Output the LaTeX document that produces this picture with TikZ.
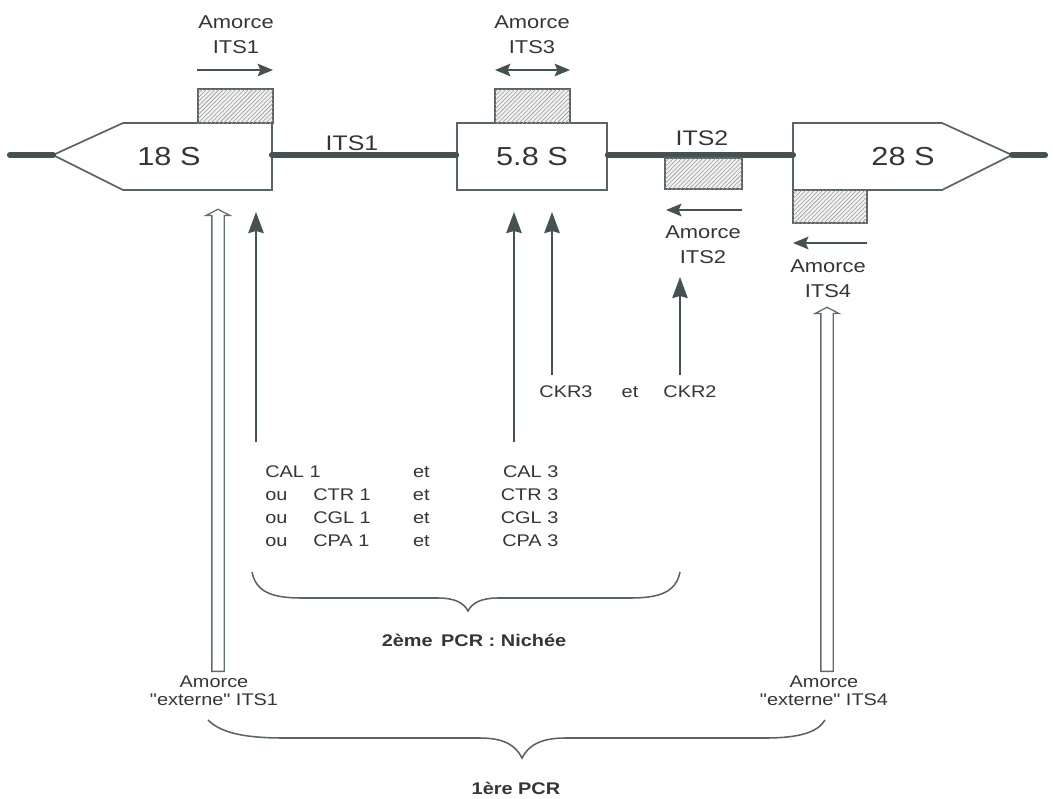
\documentclass[tikz,border=0pt]{standalone}
\usepackage{fontspec}
\setmainfont{Liberation Sans}[FakeStretch=1.18]
\newfontfamily\droit{Liberation Sans}[FakeStretch=1.18, Ligatures=TeXOff]
\usepackage{array}
\usetikzlibrary{arrows.meta,patterns,shapes.arrows,calc}
\definecolor{ink}{HTML}{353535}
\definecolor{strand}{HTML}{465252}
\definecolor{hatch}{HTML}{9A9A9A}

\begin{document}
\begin{tikzpicture}[x=0.025cm, y=-0.025cm, every node/.style={text=ink}]
  \tikzstyle{dna}=[strand, line width=4.4pt, line cap=round]
  \tikzstyle{gene}=[draw=strand!90, line width=1.2pt, fill=white]
  \tikzstyle{primer}=[draw=strand!90, line width=1.1pt, fill=gray!10, postaction={pattern=north east lines, pattern color=hatch}, inner sep=0pt, outer sep=0pt]
  \tikzstyle{sens}=[strand, line width=1pt, -{Stealth[length=11pt, width=9pt, inset=2pt]}]
  \tikzstyle{sonde}=[strand, line width=1.2pt, -{Stealth[length=15pt, width=11pt, inset=1.5pt]}]
  \tikzstyle{creux}=[draw=strand!85, line width=0.9pt, fill=white, shape=single arrow, rotate=90, single arrow head extend=0.15cm, single arrow tip angle=125, inner xsep=0pt, inner ysep=0.1375cm, anchor=tail]
  \tikzstyle{accolade}=[strand!90, line width=1.1pt]
  \tikzstyle{grand}=[font=\fontsize{18.5}{22}\selectfont]
  \tikzstyle{moyen}=[font=\fontsize{15}{18}\selectfont]
  \tikzstyle{amorce}=[font=\fontsize{13.2}{17.8}\selectfont, align=center]
  \tikzstyle{petit}=[font=\fontsize{12}{13}\selectfont, align=center]
  \tikzstyle{gras}=[font=\fontsize{12}{14}\selectfont\bfseries]

\useasboundingbox (0,0) rectangle (1053,798);

% genes
\draw[gene] (53,155) -- (123,123) -- (272,123) -- (272,190) -- (123,190) -- cycle;
\draw[gene] (793,123) -- (942,123) -- (1012,155) -- (942,190) -- (793,190) -- cycle;
\node[gene, grand, minimum width=3.75cm, minimum height=1.675cm, inner sep=0pt] (r58) at (532,156.5) {5.8 S};
\node[grand] (r18) at (169,157) {18 S};
\node[grand] (r28) at (903,157) {28 S};

\coordinate (g0) at (10,155);
\coordinate (tip18) at (53,155);
\coordinate (e18) at (272,155);
\coordinate (w28) at (793,155);
\coordinate (tip28) at (1012,155);
\coordinate (g1) at (1045,155);

\draw[dna] (g0) -- (tip18);
\draw[dna] (e18) -- (e18 -| r58.west);
\draw[dna] (w28 -| r58.east) -- (w28);
\draw[dna] (tip28) -- (g1);

\node[moyen] (its1) at (352,143) {ITS1};
\node[moyen] (its2) at (702,138) {ITS2};

% amorces
\node[primer, minimum width=1.875cm, minimum height=0.85cm] (p1) at (235.5,106) {};
\node[primer, minimum width=1.875cm, minimum height=0.85cm] (p3) at (532.5,106) {};
\node[primer, minimum width=1.925cm, minimum height=0.775cm] (p2) at (703.5,173.5) {};
\node[primer, minimum width=1.85cm, minimum height=0.825cm] (p4) at (830,206.5) {};

\draw[sens] ($(p1.north west)+(-1,-19)$) -- ($(p1.north east)+(0,-19)$);
\draw[sens, arrows={Stealth[length=11pt, width=9pt, inset=2pt]-Stealth[length=11pt, width=9pt, inset=2pt]}] ($(p3.north west)+(0,-19)$) -- ($(p3.north east)+(0,-19)$);
\draw[sens] ($(p2.south east)+(0,21)$) -- ($(p2.south west)+(1,21)$);
\draw[sens] ($(p4.south east)+(0,20)$) -- ($(p4.south west)+(0,20)$);

\node[amorce] (l1) at (236,34.5) {Amorce\\ITS1};
\node[amorce] (l3) at (532,34.5) {Amorce\\ITS3};
\node[amorce] (l2) at (703,245) {Amorce\\ITS2};
\node[amorce] (l4) at (828,278.5) {Amorce\\ITS4};

% sondes
\coordinate (haut) at (0,212);
\coordinate (a1) at (256,442);
\coordinate (a3) at (514,442);
\coordinate (k3) at (552,375);
\coordinate (k2) at (680,375);
\coordinate (t2) at (680,277);

\draw[sonde] (a1) -- (a1 |- haut);
\draw[sonde] (a3) -- (a3 |- haut);
\draw[sonde] (k3) -- (k3 |- haut);
\draw[sonde] (k2) -- (t2);

\node[petit] (ckr3) at (566,392) {CKR3};
\node[petit] (et0) at (630,392) {et};
\node[petit] (ckr2) at (690,392) {CKR2};

\node[anchor=west, inner sep=0pt, font=\fontsize{12}{16.4}\selectfont] (tab) at (265,507.5) {%
\begin{tabular}{@{}p{1.2cm}@{}p{2.2cm}@{}>{\centering\arraybackslash}p{1cm}@{}>{\raggedleft\arraybackslash}p{2.925cm}@{}}
\multicolumn{2}{@{}l}{CAL 1} & et & CAL 3\\
ou & CTR 1 & et & CTR 3\\
ou & CGL 1 & et & CGL 3\\
ou & CPA 1 & et & CPA 3\\
\end{tabular}};

% amorces externes
\node[creux, minimum height=11.55cm, minimum width=0.575cm] (h1) at (218,672) {};
\node[creux, minimum height=9.1cm, minimum width=0.575cm] (h4) at (827,672) {};
\node[petit] (x1) at (214,691) {Amorce\\{\droit"}externe{\droit"} ITS1};
\node[petit] (x4) at (824,691) {Amorce\\{\droit"}externe{\droit"} ITS4};

% accolades
\coordinate (b1l) at (252,572);
\coordinate (b1t) at (468,611);
\coordinate (b1r) at (680,572);
\draw[accolade] (b1l) .. controls (256,592) and (272,598) .. (302,598) -- (438,598)
  .. controls (455,598) and (464,603) .. (b1t)
  .. controls (472,603) and (481,598) .. (498,598) -- (630,598)
  .. controls (660,598) and (676,592) .. (b1r);
\node[gras] (pcr2) at (474,640) {2ème\enspace PCR : Nichée};

\coordinate (b2l) at (208,720);
\coordinate (b2t) at (522,758);
\coordinate (b2r) at (825,720);
\draw[accolade] (b2l) .. controls (222,734) and (248,738) .. (285,738) -- (480,738)
  .. controls (505,738) and (516,746) .. (b2t)
  .. controls (528,746) and (540,738) .. (565,738) -- (765,738)
  .. controls (800,738) and (818,732) .. (b2r);
\node[gras] (pcr1) at (516,788) {1ère PCR};

\end{tikzpicture}
\end{document}
